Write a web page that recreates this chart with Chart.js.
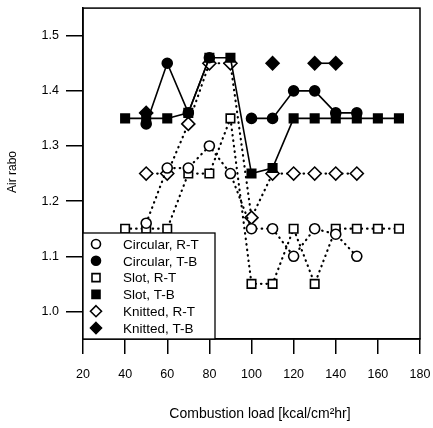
<!DOCTYPE html>
<html>
<head>
<meta charset="utf-8">
<script src="https://cdn.jsdelivr.net/npm/chart.js@4.4.1/dist/chart.umd.min.js"></script>
<style>
  html, body { margin: 0; padding: 0; background: #fff; }
  #wrap { width: 433px; height: 428px; }
</style>
</head>
<body>
<div id="wrap"><canvas id="chart" width="433" height="428"></canvas></div>
<script>
// ===== Data =====
const loads = [40, 50, 60, 70, 80, 90, 100, 110, 120, 130, 140, 150, 160, 170];

const circularRT = [null, 1.16, 1.26, 1.26, 1.30, 1.25, 1.15, 1.15, 1.10, 1.15, 1.14, 1.10, null, null];
const circularTB = [null, 1.34, 1.45, 1.36, 1.46, null, 1.35, 1.35, 1.40, 1.40, 1.36, 1.36, null, null];
const slotRT     = [1.15, 1.15, 1.15, 1.25, 1.25, 1.35, 1.05, 1.05, 1.15, 1.05, 1.15, 1.15, 1.15, 1.15];
const slotTB     = [1.35, 1.35, 1.35, 1.36, 1.46, 1.46, 1.25, 1.26, 1.35, 1.35, 1.35, 1.35, 1.35, 1.35];
const knittedRT  = [null, 1.25, 1.25, 1.34, 1.45, 1.45, 1.17, 1.25, 1.25, 1.25, 1.25, 1.25, null, null];
const knittedTB  = [null, 1.36, null, null, null, null, null, 1.45, null, 1.45, 1.45, null, null, null];

const xTicks = [20, 40, 60, 80, 100, 120, 140, 160, 180];
const yTicks = [1.0, 1.1, 1.2, 1.3, 1.4, 1.5];

const FONT = "'Liberation Sans', Arial, sans-serif";

function toPoints(values) {
  return loads.map((x, i) => ({ x: x, y: values[i] }));
}

function series(label, values, style, filled, dotted) {
  return {
    label: label,
    data: toPoints(values),
    borderColor: '#000',
    borderWidth: dotted ? 2.2 : 1.6,
    borderDash: dotted ? [0.5, 5] : [],
    borderCapStyle: dotted ? 'round' : 'butt',
    pointStyle: style,
    pointRadius: style === 'circle' ? 5 : (style === 'rect' ? 6 : 6.5),
    pointBorderWidth: 1.6,
    pointBorderColor: '#000',
    pointBackgroundColor: filled ? '#000' : '#fff',
    tension: 0,
    spanGaps: false
  };
}

// ===== Plot frame =====
const frame = {
  id: 'frame',
  beforeDatasetsDraw(chart) {
    const { ctx, chartArea: a } = chart;
    ctx.save();
    ctx.strokeStyle = '#000';
    ctx.lineWidth = 1.5;
    ctx.strokeRect(a.left, a.top, a.right - a.left, a.bottom - a.top);
    ctx.restore();
  }
};

// ===== Axis titles =====
const axisTitles = {
  id: 'axisTitles',
  afterDraw(chart) {
    const ctx = chart.ctx;
    ctx.save();
    ctx.fillStyle = '#000';
    ctx.textAlign = 'center';
    ctx.textBaseline = 'middle';
    ctx.font = '14px ' + FONT;
    ctx.fillText('Combustion load [kcal/cm\u00b2hr]', 260, 414);
    ctx.translate(13, 172);
    ctx.rotate(-Math.PI / 2);
    ctx.font = '12px ' + FONT;
    ctx.fillText('Air rabo', 0, 0);
    ctx.restore();
  }
};

// ===== Legend box in lower left corner =====
function marker(ctx, style, filled, x, y) {
  ctx.beginPath();
  if (style === 'circle') {
    ctx.arc(x, y, 4.5, 0, Math.PI * 2);
  } else if (style === 'rect') {
    ctx.rect(x - 4, y - 4, 8, 8);
  } else {
    ctx.moveTo(x, y - 5.5);
    ctx.lineTo(x + 5.5, y);
    ctx.lineTo(x, y + 5.5);
    ctx.lineTo(x - 5.5, y);
    ctx.closePath();
  }
  ctx.fillStyle = filled ? '#000' : '#fff';
  ctx.fill();
  ctx.lineWidth = 1.6;
  ctx.strokeStyle = '#000';
  ctx.stroke();
}

const boxLegend = {
  id: 'boxLegend',
  afterDatasetsDraw(chart) {
    const { ctx, chartArea: a } = chart;
    const x0 = a.left, y0 = 233, w = 132, h = a.bottom - y0;
    ctx.save();
    ctx.fillStyle = '#fff';
    ctx.fillRect(x0, y0, w, h);
    ctx.strokeStyle = '#000';
    ctx.lineWidth = 1.3;
    ctx.strokeRect(x0, y0, w, h);
    ctx.font = '13.5px ' + FONT;
    ctx.textBaseline = 'middle';
    chart.data.datasets.forEach((ds, i) => {
      const y = y0 + 11 + i * 16.8;
      marker(ctx, ds.pointStyle, ds.pointBackgroundColor === '#000', x0 + 13, y);
      ctx.fillStyle = '#000';
      ctx.fillText(ds.label, x0 + 40, y + 1);
    });
    ctx.restore();
  }
};

// ===== Chart =====
new Chart(document.getElementById('chart').getContext('2d'), {
  type: 'line',
  data: {
    datasets: [
      series('Circular, R-T', circularRT, 'circle', false, true),
      series('Circular, T-B', circularTB, 'circle', true, false),
      series('Slot, R-T', slotRT, 'rect', false, true),
      series('Slot, T-B', slotTB, 'rect', true, false),
      series('Knitted, R-T', knittedRT, 'rectRot', false, true),
      series('Knitted, T-B', knittedTB, 'rectRot', true, false)
    ]
  },
  options: {
    responsive: false,
    animation: false,
    devicePixelRatio: 1,
    layout: { padding: { left: 0, right: 13, top: 6, bottom: 0 } },
    plugins: {
      legend: { display: false },
      tooltip: { enabled: false }
    },
    scales: {
      x: {
        type: 'linear',
        min: 20,
        max: 180,
        afterBuildTicks: (axis) => { axis.ticks = xTicks.map(v => ({ value: v })); },
        afterFit: (axis) => {
          axis.height = 89;
          axis.paddingLeft = 0;
          axis.paddingRight = 0;
        },
        grid: { drawOnChartArea: false, drawTicks: true, tickLength: 15, color: '#000', lineWidth: 1.5 },
        border: { display: true, color: '#000', width: 1.5 },
        ticks: { color: '#000', padding: 13, maxRotation: 0, font: { family: FONT, size: 12.5 } }
      },
      y: {
        type: 'linear',
        min: 0.95,
        max: 1.55,
        afterBuildTicks: (axis) => { axis.ticks = yTicks.map(v => ({ value: v })); },
        afterFit: (axis) => {
          axis.width = 83;
          axis.paddingTop = 0;
          axis.paddingBottom = 0;
        },
        grid: { drawOnChartArea: false, drawTicks: true, tickLength: 17, color: '#000', lineWidth: 1.5 },
        border: { display: true, color: '#000', width: 1.5 },
        ticks: {
          color: '#000',
          padding: 7,
          font: { family: FONT, size: 12.5 },
          callback: (v) => v.toFixed(1)
        }
      }
    }
  },
  plugins: [frame, boxLegend, axisTitles]
});
</script>
</body>
</html>
